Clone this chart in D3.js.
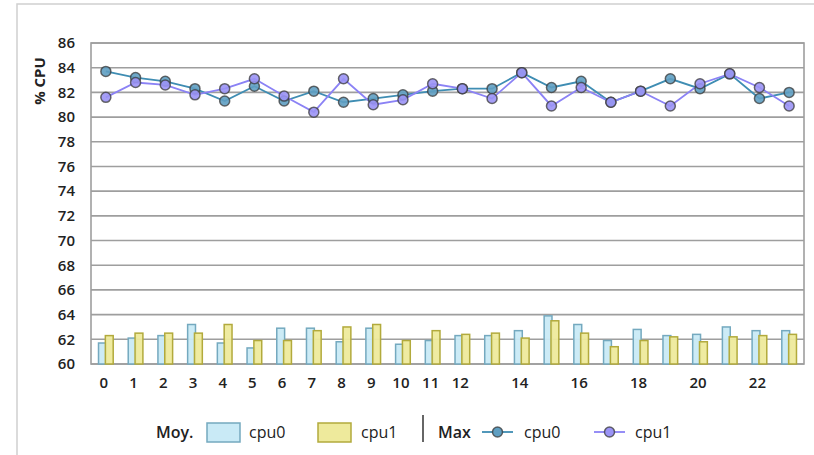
<!DOCTYPE html>
<html><head><meta charset="utf-8">
<script src="https://cdn.jsdelivr.net/npm/d3@7"></script>
<style>
html,body{margin:0;padding:0;background:#fff;}
text{font-family:"Open Sans","DejaVu Sans",sans-serif;fill:#222;}
</style></head>
<body><svg id="c" width="814" height="455"></svg>
<script>
const hours = d3.range(24);
const xTickLabels = [0,1,2,3,4,5,6,7,8,9,10,11,12,14,16,18,20,22];
const yTicks = [60,62,64,66,68,70,72,74,76,78,80,82,84,86];
const avgCpu0 = [61.7,62.1,62.3,63.2,61.7,61.3,62.9,62.9,61.8,62.9,61.6,61.9,62.3,62.3,62.7,63.9,63.2,61.9,62.8,62.3,62.4,63.0,62.7,62.7];
const avgCpu1 = [62.3,62.5,62.5,62.5,63.2,61.9,61.9,62.7,63.0,63.2,61.9,62.7,62.4,62.5,62.1,63.5,62.5,61.4,61.9,62.2,61.8,62.2,62.3,62.4];
const maxCpu0 = [83.7,83.2,82.9,82.3,81.3,82.5,81.3,82.1,81.2,81.5,81.8,82.1,82.3,82.3,83.6,82.4,82.9,81.2,82.1,83.1,82.3,83.5,81.5,82.0];
const maxCpu1 = [81.6,82.8,82.6,81.8,82.3,83.1,81.7,80.4,83.1,81.0,81.4,82.7,82.3,81.5,83.6,80.9,82.4,81.2,82.1,80.9,82.7,83.5,82.4,80.9];

const svg = d3.select("#c");
// page frame
svg.append("rect").attr("x",17).attr("y",4).attr("width",820).attr("height",470)
  .attr("fill","none").attr("stroke","#d0d0d0").attr("stroke-width",1.5);

const L=91,R=804,T=43,B=364;
const x = d3.scaleBand().domain(hours).range([L,R]).padding(0);
const x1 = d3.scaleBand().domain(["cpu0","cpu1"]).range([0,x.bandwidth()]).paddingOuter(1.1).paddingInner(-0.15);
const y = d3.scaleLinear().domain([60,86]).range([B,T]);

// gridlines
svg.append("g").selectAll("line").data(yTicks).join("line")
  .attr("x1",L).attr("x2",R).attr("y1",d=>y(d)).attr("y2",d=>y(d))
  .attr("stroke","#9e9e9e").attr("stroke-width",1.6);
svg.append("rect").attr("x",L).attr("y",T).attr("width",R-L).attr("height",B-T)
  .attr("fill","none").attr("stroke","#9e9e9e").attr("stroke-width",1.6);

// y axis labels
const yAxis = d3.axisLeft(y).tickValues(yTicks).tickSize(0).tickPadding(16);
const gy = svg.append("g").attr("transform",`translate(${L},0)`).call(yAxis);
gy.select(".domain").remove();
gy.selectAll("text").style("font-size","15px").style("font-weight","600").attr("fill","#222");

// x axis labels
const xAxis = d3.axisBottom(x).tickValues(xTickLabels).tickSize(0).tickPadding(13);
const gx = svg.append("g").attr("transform",`translate(-2,${B})`).call(xAxis);
gx.select(".domain").remove();
gx.selectAll("text").style("font-size","15px").style("font-weight","600").attr("fill","#222");

// y title
svg.append("text").attr("transform","translate(45,81) rotate(-90)").attr("text-anchor","middle")
  .style("font-size","15px").style("font-weight","700").text("% CPU");

// bars
const barSeries = [
  {key:"cpu0", vals:avgCpu0, fill:"#c9eaf6", stroke:"#74a9bf"},
  {key:"cpu1", vals:avgCpu1, fill:"#eeea9c", stroke:"#b2aa3c"}
];
barSeries.forEach(s=>{
  svg.append("g").selectAll("rect").data(s.vals).join("rect")
    .attr("x",(d,i)=>x(i)+x1(s.key)).attr("width",x1.bandwidth())
    .attr("y",d=>y(d)).attr("height",d=>B-y(d))
    .attr("fill",s.fill).attr("stroke",s.stroke).attr("stroke-width",1.5).attr("fill-opacity",0.95);
});

// lines
const lineSeries = [
  {key:"cpu0", vals:maxCpu0, line:"#3f8db3", fill:"#5f9fc2"},
  {key:"cpu1", vals:maxCpu1, line:"#8b82f5", fill:"#9b94f5"}
];
const cx = i => x(i)+x.bandwidth()/2;
lineSeries.forEach(s=>{
  svg.append("path").datum(s.vals)
    .attr("d",d3.line().x((d,i)=>cx(i)).y(d=>y(d)))
    .attr("fill","none").attr("stroke",s.line).attr("stroke-width",1.8);
});
lineSeries.forEach(s=>{
  svg.append("g").selectAll("circle").data(s.vals).join("circle")
    .attr("cx",(d,i)=>cx(i)).attr("cy",d=>y(d)).attr("r",5)
    .attr("fill",s.fill).attr("fill-opacity",0.9)
    .attr("stroke","#3a3a3a").attr("stroke-opacity",0.75).attr("stroke-width",1.5);
});

// legend
const lg = svg.append("g").style("font-size","16px").style("font-weight","600");
const ly = 438;
lg.append("text").attr("x",156).attr("y",ly).text("Moy.");
lg.append("rect").attr("x",207).attr("y",423).attr("width",33).attr("height",19)
  .attr("fill","#c9eaf6").attr("stroke","#74a9bf").attr("stroke-width",1.5);
lg.append("text").attr("x",249).attr("y",ly).style("font-weight","500").text("cpu0");
lg.append("rect").attr("x",318).attr("y",423).attr("width",33).attr("height",19)
  .attr("fill","#eeea9c").attr("stroke","#b2aa3c").attr("stroke-width",1.5);
lg.append("text").attr("x",361).attr("y",ly).style("font-weight","500").text("cpu1");
lg.append("line").attr("x1",423).attr("x2",423).attr("y1",415).attr("y2",442).attr("stroke","#333").attr("stroke-width",1.5);
lg.append("text").attr("x",438).attr("y",ly).text("Max");
[[482,"#3f8db3","#5f9fc2","cpu0",524],[594,"#8b82f5","#9b94f5","cpu1",635]].forEach(([x0,lc,fc,t,tx])=>{
  lg.append("line").attr("x1",x0).attr("x2",x0+31).attr("y1",432).attr("y2",432).attr("stroke",lc).attr("stroke-width",1.8);
  lg.append("circle").attr("cx",x0+15.5).attr("cy",432).attr("r",5).attr("fill",fc)
    .attr("stroke","#3a3a3a").attr("stroke-opacity",0.75).attr("stroke-width",1.5);
  lg.append("text").attr("x",tx).attr("y",ly).style("font-weight","500").text(t);
});
</script></body></html>
